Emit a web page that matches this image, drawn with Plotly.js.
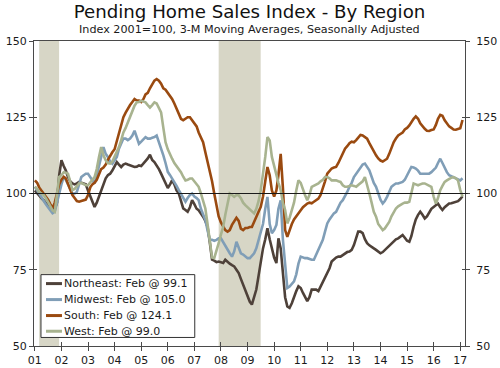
<!DOCTYPE html>
<html>
<head>
<meta charset="utf-8">
<script src="https://cdn.plot.ly/plotly-3.0.1.min.js"></script>
<style>html,body{margin:0;padding:0;background:#fff;}#chart{width:500px;height:368px;}</style>
</head>
<body>
<div id="chart"></div>
<script>
// ---- DATA (monthly, Jan 2001 - Feb 2017) ----
const startMonth = '2001-01';
const seriesNames = ['Northeast', 'Midwest', 'South', 'West'];
const lastMonthLabel = 'Feb';

const northeast = [
  101,100,99.4,98.5,97.8,97,96,95,94.6,95,97,106,
  110.9,109,107.6,105.4,104,103.3,103,103.3,103.8,103.5,103.3,103,
  101,99,97,95.6,97,99,101,103,105,106,106.5,107.5,
  108.7,110.3,109.5,108.7,109.5,109.8,109.5,109.2,109,108.7,108.8,109.2,
  109,109.8,110.5,111.5,112.7,111,110.3,109.2,108,106.5,105,103,
  101.8,103,104.3,103,101,100,97.8,95.1,94.6,94,95.5,97.8,
  96.5,95,94.5,93.5,92.4,91,89.1,84,78.3,78,77.5,77.7,
  77.5,77.2,78.3,77.5,77,76.5,76.1,75,73.9,72,70,68.5,
  66.3,64.5,63.6,66,68.5,73,78.3,82,85,88.6,85,81.5,
  79,77.2,85.3,82,74,66,63,62.5,64,66.3,68,69.6,
  69,67.4,66,64.7,66,68.5,68.5,68.5,68,69.5,70.7,72.5,
  74,75.5,77.7,78.5,79,79.3,79.3,79.8,80.4,80.8,81,81.5,
  83.1,85.5,87.5,87.5,87,85,83.7,83,82.6,82,81.5,81,
  80.4,80.8,81.5,82,83,83.5,84.2,85,85.3,85.8,86.4,85.5,
  84.5,84.2,86,89.1,91.5,93,94,93,91.8,92.5,94,95,
  95.6,96.2,96.7,95.5,94.6,95.5,96,96.7,96.8,97,97.3,97.5,
  98.2,99.1
];
const midwest = [
  102.2,101,100,98.4,97.5,96.5,95.5,94.6,93.5,94,97,100.5,
  103,105.4,104.5,103,101.5,100,100,100.5,103,105.4,106,106.5,
  106.5,105.4,104,103.3,106,108.7,112,115.2,113,112,110.5,109.8,
  111,112,114.7,116.5,118,118,117.5,118,119,120.6,118,116.3,
  117,118,118.5,118,118,118.3,118.5,119,117,115,112.5,110,
  107.1,106,105,103.8,102.5,101.1,100,98.5,97.3,98.5,99.5,100,
  99,98.5,97.8,95,93,91.3,88,84.8,84.8,84.5,84.8,85.3,
  85.3,84,82.5,81.5,80.4,79.3,81,84.2,82,80.4,80,79.3,
  78.8,78.8,79.5,80.4,82,84.8,87,90,95,98.9,90,87,
  88,89.7,95,97.8,85,77.2,69,69.5,70.5,71.2,73.5,77,
  79.3,79,78.8,78.8,78.5,78.3,78.3,80,81.5,83,84.8,87.5,
  90.2,91.5,92.5,93.5,94,95.5,97,97.8,99,100.5,102.2,103.5,
  105.4,106.5,107.5,108.7,109.5,109.8,108.5,107.6,105.5,103.5,102.2,100,
  98,96.7,97.5,98.9,100.5,102.2,102.8,103.3,103.3,103.5,103.8,104.5,
  106,107.5,108.7,108.5,108.2,107.5,106.5,106.5,106.5,106.5,106.5,107,
  107.6,108.5,110,111.4,110,108.2,107,106,105.7,105.4,105,104.6,
  104.3,105.0
];
const south = [
  104.3,103.5,102,101,100,99,98,96.5,95.2,97,100,103,
  104.5,105.5,105,103,101,99.5,98.5,97.5,97.3,97.5,97.8,98,
  99.5,102,103,103.5,104.5,106,108,108.5,109.5,111,112.5,113.5,
  114.5,117,120,122.5,125,126.5,128,129,130,131,130.5,130.5,
  130,131,132.5,133,134.5,136,137,137.5,137,136,134.5,134,
  133,132,131,129.5,128,126,124.5,124,124.5,125,125,124,
  123.3,122,120,118.5,116.8,113.5,110.5,108,104,100,96,92.5,
  90.5,89,88,87.5,88,89.7,91,92,91,88.5,88,88.7,
  88.7,89,89,90.5,92,94,95.6,99,104,108.7,106,101,
  99,101,106,113,102,88,85.8,88,90,91.5,92.4,93.5,
  94.5,95.5,96.2,96.7,97,96.8,97.3,97.8,98.3,99.5,101.5,104,
  106.5,107.5,108.2,108.5,108.7,110,111.5,113,114.7,115.5,116.5,117,
  116.8,117.5,118.5,119.2,119,118.5,118,116.5,115,113.5,112.5,111.5,
  110.8,110.5,111,111.4,113,115,116.8,118,119,119.5,120,121,
  121.5,122.3,123.5,124.5,125.3,124.5,123,122,121.2,120.6,120.5,120.8,
  121,122.5,124.5,125.8,125.5,124,123,122,121.5,121,120.9,121.2,
  121.4,124.1
];
const west = [
  102.2,101.5,100.5,100,99.5,98.5,97.3,96,94.5,94,99,105.4,
  106,107,106.8,106.5,104,101.1,101.5,102.5,103.3,103.5,103,102.7,
  102.7,103.5,104.5,105.4,108,112,115.2,112.5,110.9,110,109.8,110.5,
  112,113.5,115.2,117.5,120,121.5,123.3,125,127,128.8,129.9,130,
  130.4,130,129.9,129,128.2,129,129.9,129.5,128,126.6,121.5,116.8,
  114.5,112.5,111.4,110,109,108.2,107,105.5,104.3,104.5,104.9,104.9,
  104,103,102.2,100,97.3,95.1,90,84.8,79,78.8,81,83.7,
  86.5,89.1,93,97,100,99.5,98.9,99.5,99.4,98.5,97,96.2,
  95.5,94.5,94,93.5,95,97.5,101.1,106,112,118.5,117.4,112,
  108.7,105.4,103.5,101.1,97,94.6,90.2,92,94.6,97,101,104.3,
  103.5,101.1,99.5,97.8,99.5,102.2,102.5,103,103.3,104,104.5,105.4,
  105.4,105,104.3,104.3,104.3,104,103.8,102.7,102.2,102.2,102.5,102.7,
  102.5,102.2,102.8,103.3,104,105.4,103,100,97,94,92.4,90,
  89,88,88.5,89.5,90.7,92.5,94,95.1,95.8,96.3,96.7,97,
  97,97.3,100,103.3,103,102.7,103,103.3,103.3,103,102.5,102.2,
  99,96.7,98.5,101.1,102.5,103.8,104.3,104.8,105.2,105.4,105,104.3,
  101.1,99.0
];
const recessionStart = ['2001-03-01', '2007-12-01'];
const recessionEnd   = ['2001-11-30', '2009-06-30'];
const yTicks = [50, 75, 100, 125, 150];
const xTickYears = [2001,2002,2003,2004,2005,2006,2007,2008,2009,2010,2011,2012,2013,2014,2015,2016,2017];

// ---- STYLE ----
const colors = ['#4e4139', '#809eb7', '#9a4a10', '#a8b38f'];
const FONT = 'DejaVu Sans, Verdana, sans-serif';
const AX = '#4a4a4a';

function monthDates(start, n) {
  const [y0, m0] = start.split('-').map(Number);
  const out = [];
  for (let i = 0; i < n; i++) {
    const t = (m0 - 1) + i;
    const y = y0 + Math.floor(t / 12), m = (t % 12) + 1;
    out.push(y + '-' + String(m).padStart(2, '0') + '-01');
  }
  return out;
}

const allSeries = [northeast, midwest, south, west];
const dates = monthDates(startMonth, northeast.length);
const xTickVals = xTickYears.map(y => y + '-01-01');
const xTickText = xTickYears.map(y => String(y % 100).padStart(2, '0'));

const traces = allSeries.map((vals, i) => ({
  type: 'scatter', mode: 'lines', name: seriesNames[i],
  x: dates, y: vals,
  line: { color: colors[i], width: 2.6 },
  showlegend: false, hoverinfo: 'skip'
}));
// helper empty traces so the tick-overlay axes are drawn
traces.push({ type: 'scatter', x: [], y: [], xaxis: 'x', yaxis: 'y2', showlegend: false, hoverinfo: 'skip' });
traces.push({ type: 'scatter', x: [], y: [], xaxis: 'x2', yaxis: 'y3', showlegend: false, hoverinfo: 'skip' });
traces.push({ type: 'scatter', x: [], y: [], xaxis: 'x', yaxis: 'y4', showlegend: false, hoverinfo: 'skip' });

const xRange = ['2000-12-20', '2017-03-07'];
const yRange = [50, 150];

const shapes = [];
recessionStart.forEach((s, i) => {
  shapes.push({ type: 'rect', xref: 'x', yref: 'paper', x0: s, x1: recessionEnd[i], y0: 0, y1: 1,
    fillcolor: '#d7d6c6', line: { width: 0 }, layer: 'below' });
});
shapes.push({ type: 'line', xref: 'paper', yref: 'y', x0: -0.008, x1: 1.006, y0: 100, y1: 100,
  line: { color: '#1a1a1a', width: 1.2 }, layer: 'above' });

// custom legend box
const lg = { x0: 0.0162, x1: 0.373, y0: 0.028, y1: 0.234 };
shapes.push({ type: 'rect', xref: 'paper', yref: 'paper', x0: lg.x0, x1: lg.x1, y0: lg.y0, y1: lg.y1,
  fillcolor: '#ffffff', line: { color: '#333', width: 1 }, layer: 'above' });
const rowY = [0.2046, 0.1522, 0.0998, 0.0484];
const annotations = [];
allSeries.forEach((vals, i) => {
  shapes.push({ type: 'line', xref: 'paper', yref: 'paper', x0: 0.0278, x1: 0.0649, y0: rowY[i], y1: rowY[i],
    line: { color: colors[i], width: 3 }, layer: 'above' });
  annotations.push({ xref: 'paper', yref: 'paper', x: 0.0649, y: rowY[i], xanchor: 'left', yanchor: 'middle',
    showarrow: false, text: seriesNames[i] + ': ' + lastMonthLabel + ' @ ' + vals[vals.length - 1].toFixed(1),
    font: { family: FONT, size: 11, color: '#1a1a1a' } });
});
annotations.push({ xref: 'paper', yref: 'paper', x: 0.5, y: 1.039, xanchor: 'center', yanchor: 'middle',
  showarrow: false, text: 'Index 2001=100, 3-M Moving Averages, Seasonally Adjusted',
  font: { family: FONT, size: 11.2, color: '#1a1a1a' } });

const baseY = { range: yRange, tickvals: yTicks, showgrid: false, zeroline: false, fixedrange: true };

const layout = {
  width: 500, height: 368,
  margin: { l: 34, r: 35, t: 41, b: 22, pad: 0 },
  paper_bgcolor: '#ffffff', plot_bgcolor: '#ffffff',
  font: { family: FONT, size: 11, color: '#1a1a1a' },
  title: { text: 'Pending Home Sales Index - By Region', font: { family: FONT, size: 18.2, color: '#111' },
    x: 0.5, xanchor: 'center', xref: 'paper', y: 1 - 12 / 368, yanchor: 'middle', yref: 'container' },
  showlegend: false,
  xaxis: { type: 'date', range: xRange, tickvals: xTickVals, ticktext: xTickText,
    ticks: 'outside', ticklen: 4, tickwidth: 1, tickcolor: AX, ticklabelstandoff: 0,
    showline: true, linecolor: AX, linewidth: 1, mirror: true,
    showgrid: false, zeroline: false, tickfont: { family: FONT, size: 11, color: '#1a1a1a' } },
  xaxis2: { type: 'date', range: xRange, tickvals: xTickVals, overlaying: 'x', anchor: 'y',
    ticks: 'inside', ticklen: 4, tickwidth: 1, tickcolor: AX, showticklabels: false,
    showline: false, showgrid: false, zeroline: false },
  yaxis: Object.assign({}, baseY, { side: 'left', ticks: 'outside', ticklen: 4, tickwidth: 1, tickcolor: AX,
    showline: true, linecolor: AX, linewidth: 1, mirror: true,
    tickfont: { family: FONT, size: 11, color: '#1a1a1a' } }),
  yaxis2: Object.assign({}, baseY, { overlaying: 'y', side: 'right', anchor: 'x', ticks: 'outside', ticklen: 4,
    tickwidth: 1, tickcolor: AX, showline: false, ticklabelstandoff: 4,
    tickfont: { family: FONT, size: 11, color: '#1a1a1a' } }),
  yaxis3: Object.assign({}, baseY, { overlaying: 'y', side: 'left', anchor: 'x2', ticks: 'inside', ticklen: 3,
    tickwidth: 1, tickcolor: AX, showline: false, showticklabels: false }),
  yaxis4: Object.assign({}, baseY, { overlaying: 'y', side: 'right', anchor: 'x', ticks: 'inside', ticklen: 3,
    tickwidth: 1, tickcolor: AX, showline: false, showticklabels: false }),
  shapes: shapes,
  annotations: annotations
};

Plotly.newPlot('chart', traces, layout, { displayModeBar: false, staticPlot: true });
</script>
</body>
</html>
